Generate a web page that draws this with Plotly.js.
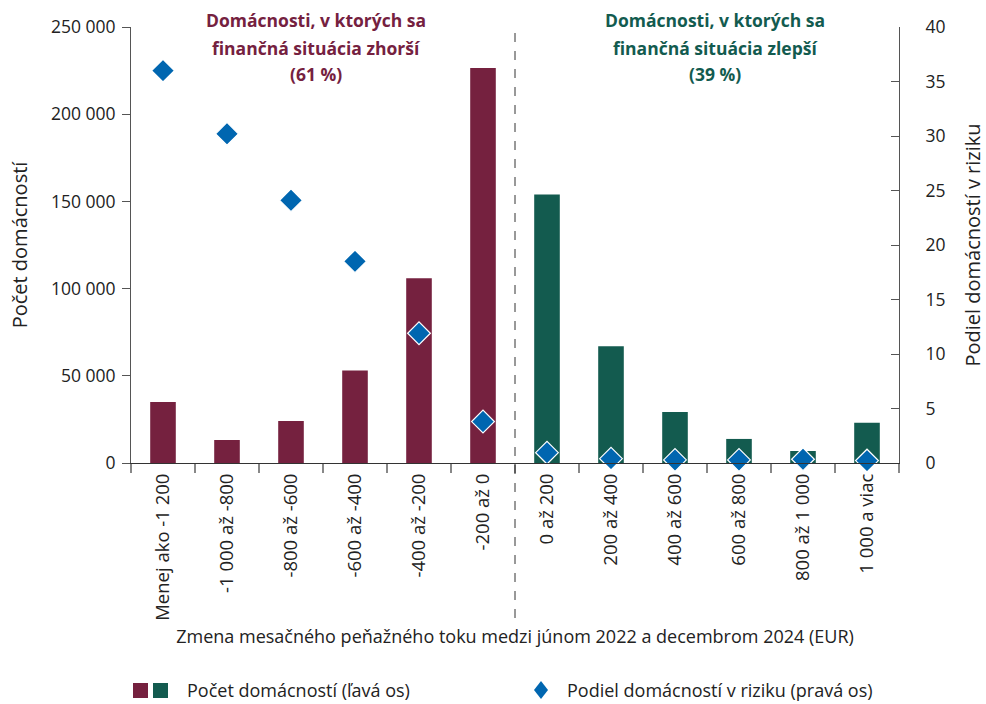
<!DOCTYPE html>
<html>
<head>
<meta charset="utf-8">
<script src="https://cdn.plot.ly/plotly-3.0.1.min.js"></script>
<style>html,body{margin:0;padding:0;background:#fff;}#chart{width:986px;height:704px;}</style>
</head>
<body>
<div id="chart"></div>
<script>
const categories = ["Menej ako -1 200","-1 000 až -800","-800 až -600","-600 až -400","-400 až -200","-200 až 0",
                    "0 až 200","200 až 400","400 až 600","600 až 800","800 až 1 000","1 000 a viac"];
const households = [35000, 13200, 24100, 53000, 106000, 226500, 154000, 67000, 29200, 13800, 6900, 23100];
const riskShare = [36.0, 30.2, 24.1, 18.5, 11.9, 3.8, 0.95, 0.4, 0.28, 0.28, 0.34, 0.22];
const worsened = [true, true, true, true, true, true, false, false, false, false, false, false];

const MAROON = '#75213F', GREEN = '#135B4F', BLUE = '#0066B0';
const FONT = '"Open Sans", "Noto Sans", sans-serif';

const bars = {
  type: 'bar', x: categories, y: households, yaxis: 'y',
  width: 0.4,
  marker: {color: worsened.map(w => w ? MAROON : GREEN), line: {width: 0}},
  showlegend: false, hoverinfo: 'x+y'
};
const risk = {
  type: 'scatter', mode: 'markers', x: categories, y: riskShare, yaxis: 'y2',
  marker: {symbol: 'diamond', size: 17.5, color: BLUE, line: {color: '#ffffff', width: 1.2}},
  showlegend: false, cliponaxis: false
};

function px(x){ return (x - 131) / 768; }
function py(y){ return (463 - y) / 436; }

const annotations = [
  {text: 'Domácnosti, v ktorých sa', x: px(316), y: py(20), color: MAROON},
  {text: 'finančná situácia zhorší', x: px(316), y: py(48), color: MAROON},
  {text: '(61 %)', x: px(316), y: py(74), color: MAROON},
  {text: 'Domácnosti, v ktorých sa', x: px(715), y: py(20), color: GREEN},
  {text: 'finančná situácia zlepší', x: px(715), y: py(48), color: GREEN},
  {text: '(39 %)', x: px(715), y: py(74), color: GREEN}
].map(a => ({
  text: '<b>' + a.text + '</b>', x: a.x, y: a.y, xref: 'paper', yref: 'paper',
  xanchor: 'center', yanchor: 'middle', showarrow: false,
  font: {family: FONT, size: 17.5, color: a.color}
}));

annotations.push({text: 'Počet domácností (ľavá os)', x: px(185), y: py(690), xref: 'paper', yref: 'paper',
  xanchor: 'left', yanchor: 'middle', showarrow: false, font: {family: FONT, size: 18, color: '#222'}});
annotations.push({text: 'Podiel domácností v riziku (pravá os)', x: px(565), y: py(690), xref: 'paper', yref: 'paper',
  xanchor: 'left', yanchor: 'middle', showarrow: false, font: {family: FONT, size: 18, color: '#222'}});

const dcx = px(541), dcy = py(690), ddx = 7/768, ddy = 9/436;
const shapes = [
  {type: 'line', xref: 'x', yref: 'paper', x0: 5.5, x1: 5.5, y0: py(618), y1: 1,
   line: {color: '#333', width: 1, dash: 'dash'}},
  {type: 'rect', xref: 'paper', yref: 'paper', x0: px(133), x1: px(148), y0: py(698), y1: py(683),
   fillcolor: MAROON, line: {width: 0}},
  {type: 'rect', xref: 'paper', yref: 'paper', x0: px(153), x1: px(168), y0: py(698), y1: py(683),
   fillcolor: GREEN, line: {width: 0}},
  {type: 'path', xref: 'paper', yref: 'paper',
   path: `M ${dcx} ${dcy+ddy} L ${dcx+ddx} ${dcy} L ${dcx} ${dcy-ddy} L ${dcx-ddx} ${dcy} Z`,
   fillcolor: BLUE, line: {width: 0}}
];

const layout = {
  width: 986, height: 704,
  margin: {l: 131, r: 87, t: 27, b: 241, pad: 0},
  paper_bgcolor: '#fff', plot_bgcolor: '#fff',
  separators: ', ',
  font: {family: FONT, size: 16, color: '#222'},
  showlegend: false,
  xaxis: {
    type: 'category', range: [-0.5, 11.5], tickangle: -90, tickson: 'boundaries', ticks: 'outside', ticklen: 9,
    tickcolor: '#888', tickwidth: 1.2, showline: true, linecolor: '#333', linewidth: 1.2,
    showgrid: false, zeroline: false, automargin: false, ticklabelstandoff: 2,
    tickfont: {family: FONT, size: 18.5, color: '#222'},
    title: {text: 'Zmena mesačného peňažného toku medzi júnom 2022 a decembrom 2024 (EUR)',
            font: {family: FONT, size: 18, color: '#222'}, standoff: 10}
  },
  yaxis: {
    range: [0, 250000], dtick: 50000, tickformat: ',d', ticks: 'outside', ticklen: 8,
    tickcolor: '#555', showline: true, linecolor: '#555', linewidth: 1,
    showgrid: false, zeroline: false, automargin: false, ticklabelstandoff: 3,
    tickfont: {family: FONT, size: 17.5, color: '#222'},
    title: {text: 'Počet domácností', font: {family: FONT, size: 20, color: '#222'}, standoff: 17}
  },
  yaxis2: {
    overlaying: 'y', side: 'right', range: [0, 40], dtick: 5, ticks: 'inside', ticklen: 8,
    tickcolor: '#555', showline: true, linecolor: '#555', linewidth: 1,
    showgrid: false, zeroline: false, automargin: false, ticklabelstandoff: 22,
    tickfont: {family: FONT, size: 17.5, color: '#222'},
    title: {text: 'Podiel domácností v riziku', font: {family: FONT, size: 20, color: '#222'}, standoff: 21}
  },
  annotations: annotations,
  shapes: shapes
};

Plotly.newPlot('chart', [bars, risk], layout, {displayModeBar: false, staticPlot: true});
</script>
</body>
</html>
